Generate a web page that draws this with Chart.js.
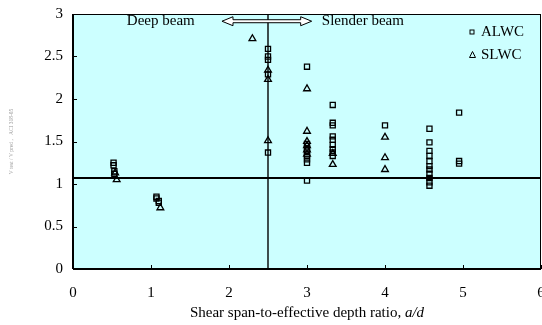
<!DOCTYPE html>
<html>
<head>
<meta charset="utf-8">
<script src="https://cdn.jsdelivr.net/npm/chart.js@4/dist/chart.umd.min.js"></script>
<style>
  html, body { margin: 0; padding: 0; background: #fff; }
  #wrap { width: 542px; height: 325px; position: relative; }
</style>
</head>
<body>
<div id="wrap"><canvas id="shearChart"></canvas></div>
<script>
// shear span ratio (a/d) and strength ratio for each specimen
const alwcX = [0.52, 0.52, 0.53, 0.53, 1.07, 1.07, 1.1, 1.1,
    2.5, 2.5, 2.5, 2.5, 2.5,
    3, 3, 3, 3, 3, 3, 3, 3,
    3.33, 3.33, 3.33, 3.33, 3.33, 3.33, 3.33, 3.33, 3.33,
    4,
    4.57, 4.57, 4.57, 4.57, 4.57, 4.57, 4.57, 4.57, 4.57, 4.57, 4.57,
    4.95, 4.95, 4.95];
const alwcY = [1.25, 1.22, 1.15, 1.12, 0.85, 0.83, 0.80, 0.78,
    2.59, 2.50, 2.46, 2.29, 1.37,
    2.38, 1.47, 1.42, 1.38, 1.33, 1.29, 1.25, 1.04,
    1.93, 1.72, 1.69, 1.56, 1.52, 1.46, 1.41, 1.37, 1.33,
    1.69,
    1.65, 1.49, 1.39, 1.33, 1.27, 1.21, 1.17, 1.12, 1.07, 1.02, 0.98,
    1.84, 1.27, 1.24];

const slwcX = [0.54, 0.56, 1.12, 2.3, 2.5, 2.5, 2.5,
    3, 3, 3, 3, 3, 3, 3.33, 3.33, 4, 4, 4];
const slwcY = [1.13, 1.05, 0.72, 2.71, 2.34, 2.23, 1.51,
    2.12, 1.62, 1.50, 1.45, 1.40, 1.35, 1.36, 1.23, 1.55, 1.31, 1.17];

const xTicks = [0, 1, 2, 3, 4, 5, 6];
const yTicks = [0, 0.5, 1, 1.5, 2, 2.5, 3];
const meanRatio = 1.07;   // horizontal reference line
const deepLimit = 2.5;    // deep / slender boundary

const serif = 'Liberation Serif, Times New Roman, serif';

function toPoints(xs, ys) {
    return xs.map((x, i) => ({ x: x, y: ys[i] }));
}

// let the plot run to the right edge even though the "6" label overhangs
const noPad = () => ({ left: 0, top: 0, right: 0, bottom: 0 });

// cyan plot background, inner tick marks, frame, annotations and legend
const decor = {
    id: 'decor',
    beforeDatasetsDraw(chart) {
        const { ctx, chartArea: a } = chart;
        ctx.save();
        ctx.fillStyle = 'rgb(204,255,255)';
        ctx.fillRect(a.left, a.top, a.right - a.left, a.bottom - a.top);
        ctx.restore();
    },
    afterDatasetsDraw(chart) {
        const { ctx, chartArea: a, scales } = chart;
        const xs = scales.x, ys = scales.y;
        ctx.save();
        ctx.strokeStyle = '#000';
        ctx.lineWidth = 1;
        ctx.beginPath();
        xTicks.forEach(v => {
            const px = Math.round(xs.getPixelForValue(v)) + 0.5;
            ctx.moveTo(px, a.bottom);
            ctx.lineTo(px, a.bottom - 4);
        });
        yTicks.forEach(v => {
            const py = Math.round(ys.getPixelForValue(v)) + 0.5;
            ctx.moveTo(a.left, py);
            ctx.lineTo(a.left + 4, py);
        });
        ctx.stroke();
        ctx.strokeRect(a.left + 0.5, a.top + 0.5, a.right - a.left - 1, a.bottom - a.top - 1);
        ctx.lineWidth = 2;
        ctx.beginPath();
        ctx.moveTo(a.left, a.bottom);
        ctx.lineTo(a.right, a.bottom);
        ctx.moveTo(a.left, a.top);
        ctx.lineTo(a.left, a.bottom);
        ctx.stroke();

        // region labels and double arrow
        const ty = ys.getPixelForValue(2.915);
        ctx.fillStyle = '#000';
        ctx.font = '15px ' + serif;
        ctx.textBaseline = 'middle';
        ctx.textAlign = 'left';
        ctx.fillText('Deep beam', xs.getPixelForValue(0.69), ty);
        ctx.fillText('Slender beam', xs.getPixelForValue(3.19), ty);

        const x1 = xs.getPixelForValue(1.91), x2 = xs.getPixelForValue(3.06);
        const h = 3, head = 11, hw = 4.5;
        ctx.beginPath();
        ctx.moveTo(x1, ty);
        ctx.lineTo(x1 + head, ty - hw);
        ctx.lineTo(x1 + head, ty - h / 2);
        ctx.lineTo(x2 - head, ty - h / 2);
        ctx.lineTo(x2 - head, ty - hw);
        ctx.lineTo(x2, ty);
        ctx.lineTo(x2 - head, ty + hw);
        ctx.lineTo(x2 - head, ty + h / 2);
        ctx.lineTo(x1 + head, ty + h / 2);
        ctx.lineTo(x1 + head, ty + hw);
        ctx.closePath();
        ctx.fillStyle = '#fff';
        ctx.fill();
        ctx.lineWidth = 1;
        ctx.stroke();

        // legend
        ctx.fillStyle = '#000';
        ctx.font = '15px ' + serif;
        const lx = 472;
        ctx.strokeRect(lx - 2.5 + 0.5, 32 - 2.5 + 0.5, 4, 4);
        ctx.fillText('ALWC', 481, 32);
        ctx.beginPath();
        ctx.moveTo(lx + 0.5, 51.5);
        ctx.lineTo(lx + 3.5, 57.5);
        ctx.lineTo(lx - 2.5, 57.5);
        ctx.closePath();
        ctx.stroke();
        ctx.fillText('SLWC', 481, 55);

        // x axis title with italic a/d
        const plain = 'Shear span-to-effective depth ratio, ';
        const ital = 'a/d';
        ctx.font = '15px ' + serif;
        const w1 = ctx.measureText(plain).width;
        ctx.font = 'italic 15px ' + serif;
        const w2 = ctx.measureText(ital).width;
        const cx = (a.left + a.right) / 2;
        const sx = cx - (w1 + w2) / 2;
        ctx.font = '15px ' + serif;
        ctx.fillText(plain, sx, 313);
        ctx.font = 'italic 15px ' + serif;
        ctx.fillText(ital, sx + w1, 313);
        ctx.restore();
    }
};

const ctx = document.getElementById('shearChart').getContext('2d');
new Chart(ctx, {
    type: 'scatter',
    data: {
        datasets: [
            {
                label: 'ALWC',
                data: toPoints(alwcX, alwcY),
                pointStyle: 'rect',
                pointRadius: 3.6,
                borderColor: '#000',
                backgroundColor: 'rgba(0,0,0,0)',
                borderWidth: 1.3
            },
            {
                label: 'SLWC',
                data: toPoints(slwcX, slwcY),
                pointStyle: 'triangle',
                pointRadius: 3.9,
                borderColor: '#000',
                backgroundColor: 'rgba(0,0,0,0)',
                borderWidth: 1.3
            },
            {
                label: 'mean',
                type: 'line',
                data: [{ x: 0, y: meanRatio }, { x: 6, y: meanRatio }],
                borderColor: '#000',
                borderWidth: 2,
                pointRadius: 0
            },
            {
                label: 'limit',
                type: 'line',
                data: [{ x: deepLimit, y: 0 }, { x: deepLimit, y: 3 }],
                borderColor: '#000',
                borderWidth: 1.4,
                pointRadius: 0
            }
        ]
    },
    options: {
        responsive: true,
        maintainAspectRatio: false,
        animation: false,
        layout: { autoPadding: false, padding: { top: 14, right: 1, left: 0, bottom: 0 } },
        plugins: {
            legend: { display: false },
            tooltip: { enabled: false }
        },
        scales: {
            x: {
                type: 'linear',
                min: 0,
                max: 6,
                afterBuildTicks: s => { s.ticks = xTicks.map(v => ({ value: v })); },
                afterFit: s => { s.height = 56; s.getPadding = noPad; },
                grid: { display: false, drawTicks: false },
                border: { display: false },
                ticks: {
                    padding: 15,
                    color: '#000',
                    font: { family: serif, size: 15 },
                    callback: v => String(v)
                }
            },
            y: {
                type: 'linear',
                min: 0,
                max: 3,
                afterBuildTicks: s => { s.ticks = yTicks.map(v => ({ value: v })); },
                afterFit: s => { s.width = 73; s.getPadding = noPad; },
                grid: { display: false, drawTicks: false },
                border: { display: false },
                ticks: {
                    padding: 10,
                    color: '#000',
                    font: { family: serif, size: 15 },
                    callback: v => String(v)
                },
                title: {
                    display: true,
                    text: 'V test / V pred ,   ACI 318-05',
                    color: '#999',
                    font: { family: serif, size: 5.5 },
                    padding: { top: 8, bottom: 2 }
                }
            }
        }
    },
    plugins: [decor]
});
</script>
</body>
</html>
